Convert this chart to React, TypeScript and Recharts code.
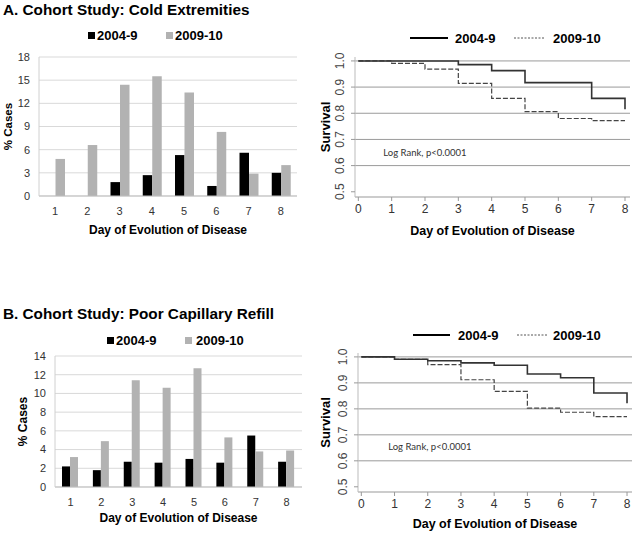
import React from 'react';
import {
  BarChart, Bar, XAxis, YAxis, CartesianGrid, LineChart, Line, ReferenceLine, ReferenceDot,
} from 'recharts';

// ---------- data ----------
const days = [1, 2, 3, 4, 5, 6, 7, 8];
const coldOld = [0, 0, 1.8, 2.7, 5.3, 1.3, 5.6, 3.0];
const coldNew = [4.8, 6.6, 14.4, 15.5, 13.4, 8.3, 2.9, 4.0];
const capOld = [2.2, 1.8, 2.7, 2.6, 3.0, 2.6, 5.5, 2.7];
const capNew = [3.2, 4.9, 11.4, 10.6, 12.7, 5.3, 3.8, 3.9];
const coldTicks = [0, 3, 6, 9, 12, 15, 18];
const capTicks = [0, 2, 4, 6, 8, 10, 12, 14];

const survDays = [0, 1, 2, 3, 4, 5, 6, 7, 8];
const survColdOld = [1, 1, 1, 0.986, 0.963, 0.917, 0.917, 0.857, 0.815];
const survColdNew = [1, 0.991, 0.969, 0.914, 0.857, 0.806, 0.78, 0.772, 0.772];
const survCapOld = [1, 0.991, 0.985, 0.977, 0.968, 0.934, 0.92, 0.861, 0.822];
const survCapNew = [1, 0.991, 0.97, 0.912, 0.867, 0.803, 0.787, 0.77, 0.77];
const survTicks = [0.5, 0.6, 0.7, 0.8, 0.9, 1.0];
const survGrid = [0.6, 0.7, 0.8, 0.9, 1.0];
const dayTicks = [0, 1, 2, 3, 4, 5, 6, 7, 8];

const seriesNames = ['2004-9', '2009-10'];
const titleA = 'A. Cohort Study: Cold Extremities';
const titleB = 'B. Cohort Study: Poor Capillary Refill';
const xTitle = 'Day of Evolution of Disease';
const logRank = 'Log Rank, p<0.0001';

const coldData = days.map((d, i) => ({ day: d, old: coldOld[i], new: coldNew[i] }));
const capData = days.map((d, i) => ({ day: d, old: capOld[i], new: capNew[i] }));
const survColdData = survDays.map((d, i) => ({ day: d, old: survColdOld[i], new: survColdNew[i] }));
const survCapData = survDays.map((d, i) => ({ day: d, old: survCapOld[i], new: survCapNew[i] }));

const FONT = '"Liberation Sans", Arial, sans-serif';
const GRAY_BAR = '#b2b2b2';

// ---------- helpers ----------
const Txt = ({ x, y, fs, bold = true, children, color = '#000' }: any) => (
  <div
    style={{
      position: 'absolute', left: x, top: y - 0.49 * fs, fontSize: fs, lineHeight: 1,
      fontWeight: bold ? 'bold' : 'normal', fontFamily: FONT, color, whiteSpace: 'nowrap',
    }}
  >
    {children}
  </div>
);

const xTitleLabel = (dy: number, fs: number) => (props: any) => {
  const vb = props.viewBox || {};
  return (
    <text x={vb.x + vb.width / 2} y={vb.y + dy + 0.36 * fs} textAnchor="middle"
      fontSize={fs} fontWeight="bold" fontFamily={FONT} fill="#000">{xTitle}</text>
  );
};

const yTitleLabel = (text: string, dx: number, fs: number) => (props: any) => {
  const vb = props.viewBox || {};
  const cx = vb.x + dx + 0.36 * fs;
  const cy = vb.y + vb.height / 2;
  return (
    <text x={cx} y={cy} transform={`rotate(-90, ${cx}, ${cy})`} textAnchor="middle"
      fontSize={fs} fontWeight="bold" fontFamily={FONT} fill="#000">{text}</text>
  );
};

const RotTick = (props: any) => {
  const { x, y, payload } = props;
  return (
    <text x={x} y={y} transform={`rotate(-90, ${x}, ${y})`} textAnchor="middle"
      fontSize={12} fontFamily={FONT} fill="#444">{Number(payload.value).toFixed(1)}</text>
  );
};

function BarPanel({ data, yMax, ticks, left, top, width, height, margin, yWidth, barSize, xDy, yDx, yFs }: any) {
  return (
    <div style={{ position: 'absolute', left, top }}>
      <BarChart width={width} height={height} data={data} margin={margin} barGap={0} barSize={barSize}>
        <CartesianGrid vertical={false} stroke="#d9d9d9" />
        <XAxis dataKey="day" tickLine={false} axisLine={{ stroke: '#bfbfbf' }}
          tick={{ fontSize: 11, fill: '#333', fontFamily: FONT }} tickSize={4} tickMargin={7} height={40}
          interval={0} label={xTitleLabel(xDy, 12)} />
        <YAxis domain={[0, yMax]} ticks={ticks} interval={0} width={yWidth} tickLine={false}
          axisLine={{ stroke: '#d0d0d0' }} tick={{ fontSize: 11, fill: '#333', fontFamily: FONT }}
          tickSize={4} tickMargin={5} label={yTitleLabel('% Cases', yDx, yFs)} />
        <Bar dataKey="old" name={seriesNames[0]} fill="#000" isAnimationActive={false} />
        <Bar dataKey="new" name={seriesNames[1]} fill={GRAY_BAR} isAnimationActive={false} />
      </BarChart>
    </div>
  );
}

function SurvPanel({ data, left, top, width, height, margin, yWidth, xHeight, xDy, lr }: any) {
  return (
    <div style={{ position: 'absolute', left, top }}>
      <LineChart width={width} height={height} data={data} margin={margin}>
        {survGrid.map((v) => (
          <ReferenceLine key={v} y={v} stroke="#9a9a9a" strokeWidth={1} />
        ))}
        <XAxis type="number" dataKey="day" domain={[-0.1, 8.15]} ticks={dayTicks} interval={0}
          allowDataOverflow tickLine={{ stroke: '#999' }} axisLine={{ stroke: '#999' }}
          tick={{ fontSize: 12, fill: '#333', fontFamily: FONT }} tickSize={4} tickMargin={3}
          height={xHeight} label={xTitleLabel(xDy, 12.5)} />
        <YAxis type="number" domain={[0.48, 1.015]} ticks={survTicks} interval={0} allowDataOverflow
          width={yWidth} tickLine={{ stroke: '#999' }} axisLine={{ stroke: '#bbb' }}
          tick={<RotTick />} tickSize={4} tickMargin={7}
          label={yTitleLabel('Survival', 15.5, 13)} />
        <ReferenceDot x={lr[0]} y={lr[1]} r={0} fill="none" stroke="none"
          label={{ value: logRank, position: 'right', offset: 0, fontSize: 9.5, fill: '#333', fontFamily: 'Lato' }} />
        <Line type="stepAfter" dataKey="new" name={seriesNames[1]} stroke="#444" strokeWidth={1.2}
          strokeDasharray="5 2" dot={false} isAnimationActive={false} />
        <Line type="stepAfter" dataKey="old" name={seriesNames[0]} stroke="#333" strokeWidth={1.6}
          dot={false} isAnimationActive={false} />
      </LineChart>
    </div>
  );
}

const BarLegend = ({ y, sq1, t1, sq2, t2 }: any) => (
  <>
    <div style={{ position: 'absolute', left: sq1, top: y - 3.5, width: 7, height: 7, background: '#000' }} />
    <Txt x={t1} y={y} fs={13}>{seriesNames[0]}</Txt>
    <div style={{ position: 'absolute', left: sq2, top: y - 3.5, width: 7, height: 7, background: GRAY_BAR }} />
    <Txt x={t2} y={y} fs={13}>{seriesNames[1]}</Txt>
  </>
);

const LineLegend = ({ y, l1, t1, l2, t2 }: any) => (
  <>
    <svg style={{ position: 'absolute', left: l1[0], top: y - 2 }} width={l1[1] - l1[0]} height={4}>
      <line x1={0} x2={l1[1] - l1[0]} y1={2} y2={2} stroke="#000" strokeWidth={2} />
    </svg>
    <Txt x={t1} y={y} fs={13}>{seriesNames[0]}</Txt>
    <svg style={{ position: 'absolute', left: l2[0], top: y - 2 }} width={l2[1] - l2[0]} height={4}>
      <line x1={0} x2={l2[1] - l2[0]} y1={2} y2={2} stroke="#555" strokeWidth={1} strokeDasharray="2 1.5" />
    </svg>
    <Txt x={t2} y={y} fs={13}>{seriesNames[1]}</Txt>
  </>
);

export default function App() {
  return (
    <div style={{ position: 'absolute', left: 0, top: 0, width: 641, height: 534, background: '#fff', overflow: 'hidden', fontFamily: FONT }}>
      <Txt x={3} y={9.3} fs={15.3}>{titleA}</Txt>
      <Txt x={3} y={313} fs={15.3}>{titleB}</Txt>

      <BarPanel data={coldData} yMax={18} ticks={coldTicks} left={0} top={0} width={315} height={250}
        margin={{ top: 57, right: 18, left: 0, bottom: 14 }} yWidth={39} barSize={9.5} xDy={34} yDx={8} yFs={11.5} />
      <BarPanel data={capData} yMax={14} ticks={capTicks} left={0} top={290} width={315} height={244}
        margin={{ top: 66, right: 13, left: 0, bottom: 7 }} yWidth={55} barSize={8} xDy={31} yDx={23} yFs={12} />

      <SurvPanel data={survColdData} left={310} top={0} width={331} height={250}
        margin={{ top: 57, right: 11, left: 0, bottom: 8 }} yWidth={45} xHeight={45} xDy={33} lr={[0.75, 0.649]} />
      <SurvPanel data={survCapData} left={310} top={290} width={331} height={244}
        margin={{ top: 63, right: 9, left: 0, bottom: 6 }} yWidth={48} xHeight={36} xDy={31} lr={[0.81, 0.654]} />

      <BarLegend y={35} sq1={88} t1={97} sq2={166} t2={175} />
      <BarLegend y={340} sq1={107} t1={116} sq2={185} t2={196} />
      <LineLegend y={38} l1={[410, 448]} t1={455} l2={[514, 545]} t2={553} />
      <LineLegend y={335} l1={[413, 450]} t1={458} l2={[517, 548]} t2={553} />
    </div>
  );
}
